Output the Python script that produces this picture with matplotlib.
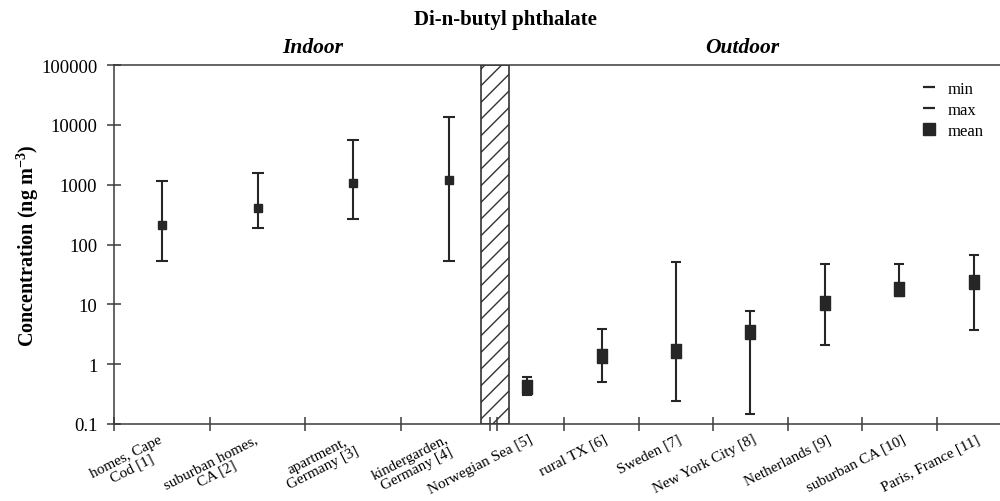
import numpy as np
import matplotlib
matplotlib.use("Agg")
from matplotlib import pyplot as plt
from matplotlib.lines import Line2D

plt.rcParams['font.family'] = ['Liberation Serif', 'DejaVu Serif']
plt.rcParams['mathtext.fontset'] = 'custom'
plt.rcParams['mathtext.rm'] = 'Liberation Serif'
plt.rcParams['mathtext.bf'] = 'Liberation Serif:bold'
plt.rcParams['hatch.linewidth'] = 1.0

# indoor sites
indoor_labels = ['homes, Cape\nCod [1]', 'suburban homes,\nCA [2]',
                 'apartment,\nGermany [3]', 'kindergarden,\nGermany [4]']
indoor_min = [52, 186, 263, 52]
indoor_mean = [213, 402, 1050, 1180]
indoor_max = [1135, 1540, 5480, 13300]

# outdoor sites
outdoor_labels = ['Norwegian Sea [5]', 'rural TX [6]', 'Sweden [7]',
                  'New York City [8]', 'Netherlands [9]', 'suburban CA [10]',
                  'Paris, France [11]']
outdoor_min = [0.30, 0.50, 0.24, 0.146, 2.07, 14, 3.7]
outdoor_mean = [0.41, 1.36, 1.65, 3.42, 10.4, 17.9, 23.4]
outdoor_max = [0.61, 3.84, 50.5, 7.7, 46.5, 48, 66]

yticks = [0.1, 1, 10, 100, 1000, 10000, 100000]
ytick_labels = ['0.1', '1', '10', '100', '1000', '10000', '100000']

col = '#262626'

# category layout (indoor categories are wider than outdoor ones)
x_in = np.arange(4) + 0.5
out_step = 0.778
x_out = 4.316 + np.arange(7) * out_step

fig = plt.figure(figsize=(10, 5.02), dpi=100)
ax = fig.add_axes([0.114, 0.1534, 0.886, 0.7151])

mean_in = np.array(indoor_mean)
err_in = [mean_in - np.array(indoor_min), np.array(indoor_max) - mean_in]
ax.errorbar(x_in, mean_in, yerr=err_in, fmt='s', color=col, ms=6.2,
            elinewidth=1.5, capsize=4.0, capthick=1.5)

mean_out = np.array(outdoor_mean)
err_out = [mean_out - np.array(outdoor_min), np.array(outdoor_max) - mean_out]
rect = [(-0.75, -1), (0.75, -1), (0.75, 1), (-0.75, 1), (-0.75, -1)]
ax.errorbar(x_out, mean_out, yerr=err_out, fmt='none', ecolor=col,
            elinewidth=1.5, capsize=3.8, capthick=1.5)
ax.plot(x_out, mean_out, linestyle='none', marker=rect, ms=9.6, color=col)

# hatched separator
ax.axvspan(3.835, 4.13, facecolor='white', edgecolor='#333333', hatch='//',
           linewidth=1.2, zorder=0)

ax.set_yscale('log')
ax.set_ylim(0.1, 100000)
ax.set_xlim(0, 9.258)
ax.set_yticks(yticks)
ax.set_yticklabels(ytick_labels)
ax.yaxis.set_minor_locator(matplotlib.ticker.NullLocator())
ax.tick_params(axis='y', direction='inout', length=10, width=1.1, color='#3a3a3a',
               labelsize=13.5, pad=7)

# boundaries as ticks, labels at category centres
bounds = list(np.arange(5)) + list(x_out[0] - out_step / 2 + np.arange(7) * out_step)
ax.set_xticks(bounds, minor=True)
ax.tick_params(axis='x', which='minor', direction='inout', length=10, width=1.1,
               color='#3a3a3a')
lab_pos = list(x_in - 0.04) + list(x_out + 0.02)
ax.set_xticks(lab_pos)
ax.set_xticklabels(indoor_labels + outdoor_labels, rotation=27, ha='right',
                   rotation_mode='anchor', fontsize=11, multialignment='center',
                   linespacing=1.0)
ax.tick_params(axis='x', which='major', length=0, pad=6)

for s in ['left', 'top', 'bottom']:
    ax.spines[s].set_color('#3a3a3a')
    ax.spines[s].set_linewidth(1.1)
ax.spines['right'].set_visible(False)

ax.set_ylabel('Concentration (ng m$^{\\mathbf{-3}}$)', fontsize=14.5,
              fontweight='bold', labelpad=0)

fig.text(0.505, 1 - 20 / 502, 'Di-n-butyl phthalate', ha='center', va='center',
         fontsize=15, fontweight='bold')
fig.text(0.313, 1 - 48 / 502, 'Indoor', ha='center', va='center', fontsize=15.5,
         fontweight='bold', style='italic')
fig.text(0.742, 1 - 48 / 502, 'Outdoor', ha='center', va='center', fontsize=15.5,
         fontweight='bold', style='italic')

handles = [Line2D([], [], linestyle='none', marker='_', ms=9, mew=1.6, color=col),
           Line2D([], [], linestyle='none', marker='_', ms=9, mew=1.6, color=col),
           Line2D([], [], linestyle='none', marker='s', ms=8.5, color=col)]
ax.legend(handles, ['min', 'max', 'mean'], loc='upper right',
          bbox_to_anchor=(0.998, 0.998), frameon=False, fontsize=12,
          handlelength=1.0, handletextpad=0.6, labelspacing=0.3)

fig.savefig('out.png', dpi=100)
